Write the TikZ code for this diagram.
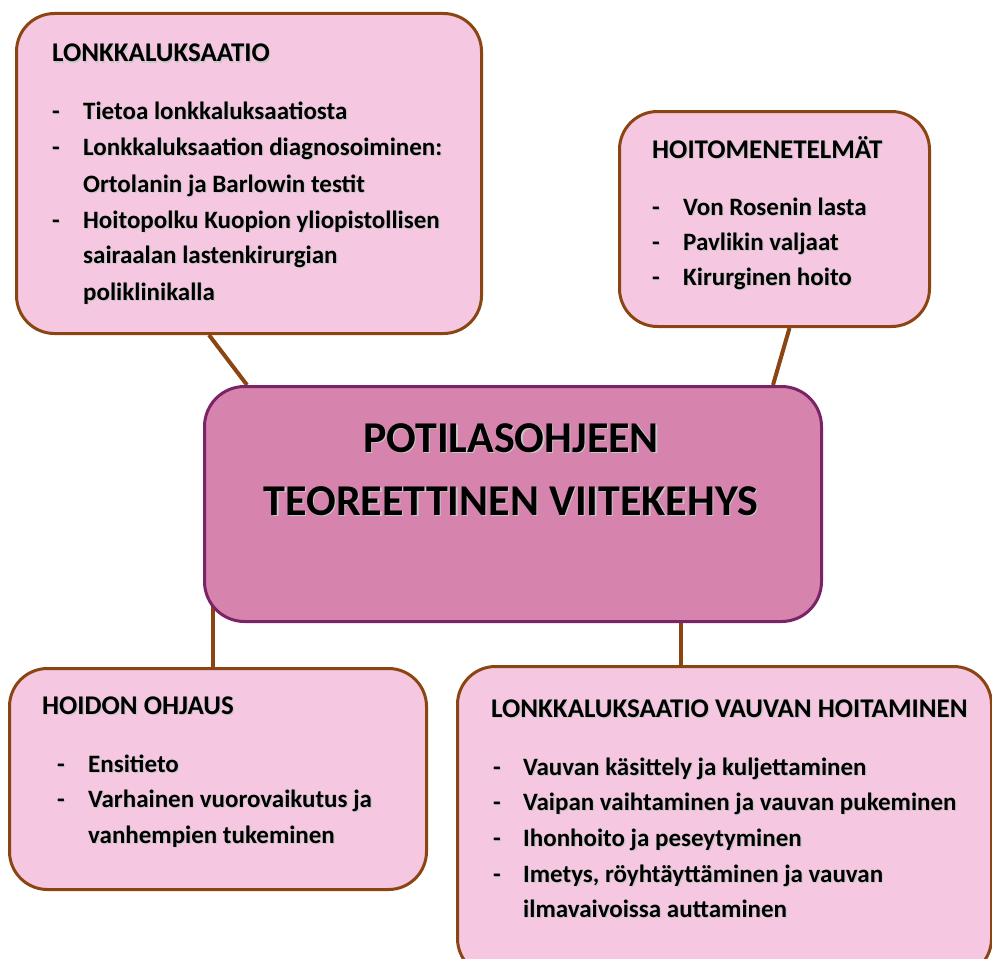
\documentclass[tikz,border=0pt]{standalone}
\usepackage{fontspec}
\setmainfont{Carlito}
\pgfdeclarelayer{background}
\pgfdeclarelayer{paper}
\pgfsetlayers{paper,background,main}
\definecolor{pinkfill}{HTML}{F5C7E0}
\definecolor{brownline}{HTML}{8B4513}
\definecolor{centfill}{HTML}{D683AD}
\definecolor{centline}{HTML}{7A2367}
\newcommand\shd[1]{\makebox[0pt][l]{\hspace{1.2pt}\raisebox{-1.2pt}{\textcolor{black!22}{#1}}}#1}
\tikzset{
  subbox/.style={draw=brownline, fill=pinkfill, line width=3pt, rounded corners=38pt, anchor=north west, inner sep=0pt},
  centbox/.style={draw=centline, fill=centfill, line width=3pt, rounded corners=40pt, anchor=north west, inner sep=0pt},
  txt/.style={anchor=base west, inner sep=0pt, font=\bfseries\fontsize{25}{29}\selectfont},
  ttl/.style={anchor=base west, inner sep=0pt, font=\bfseries\fontsize{27}{31}\selectfont},
  bigtxt/.style={anchor=base, inner sep=0pt, font=\bfseries\fontsize{44}{50}\selectfont},
  conn/.style={draw=brownline, line width=4pt}
}
\newcommand\li[4]{\node[txt] (#1) at (#2,#3) {\shd{#4}};}
\newcommand\ti[4]{\node[ttl] (#1) at (#2,#3) {\shd{#4}};}
\begin{document}
\begin{tikzpicture}[x=1pt,y=-1pt]
\useasboundingbox (0,0) rectangle (992,958);
\clip (0,0) rectangle (992,958);
\begin{pgfonlayer}{paper}
\fill[white] (0,0) rectangle (992,958);
\end{pgfonlayer}

% boxes
\node[subbox, minimum width=465pt, minimum height=320pt] (lonk) at (15,12) {};
\node[subbox, minimum width=310pt, minimum height=215pt] (hoito) at (618,110) {};
\node[centbox, minimum width=617pt, minimum height=235pt] (cent) at (203,385) {};
\node[subbox, minimum width=417pt, minimum height=221pt] (ohj) at (8,667) {};
\node[subbox, minimum width=534pt, minimum height=310pt] (vauv) at (456,665) {};

% connectors
\begin{pgfonlayer}{background}
\draw[conn] ([xshift=-40pt]lonk.south) -- ([xshift=44pt]cent.north west);
\draw[conn] ([xshift=15pt]hoito.south) -- ([xshift=-50pt]cent.north east);
\draw[conn] ([xshift=-5pt]ohj.north) -- ([xshift=-5pt]ohj.north |- cent.center);
\draw[conn] ([xshift=-44pt]vauv.north) -- ([xshift=-44pt]vauv.north |- cent.center);
\end{pgfonlayer}

% central text
\node[bigtxt] (c1) at (511,452) {\shd{POTILASOHJEEN}};
\node[bigtxt] (c2) at (511,515) {\shd{TEOREETTINEN VIITEKEHYS}};

% box 1
\ti{t1}{52}{62}{LONKKALUKSAATIO}
\li{a1d}{52}{119}{-}\li{a1}{83}{119}{Tietoa lonkkaluksaatiosta}
\li{a2d}{52}{155}{-}\li{a2}{83}{155}{Lonkkaluksaation diagnosoiminen:}
\li{a2b}{83}{192}{Ortolanin ja Barlowin testit}
\li{a3d}{52}{228}{-}\li{a3}{83}{228}{Hoitopolku Kuopion yliopistollisen}
\li{a3b}{83}{263}{sairaalan lastenkirurgian}
\li{a3c}{83}{300}{poliklinikalla}

% box 2
\ti{t2}{652}{158}{HOITOMENETELMÄT}
\li{b1d}{652}{215}{-}\li{b1}{683}{215}{Von Rosenin lasta}
\li{b2d}{652}{250}{-}\li{b2}{683}{250}{Pavlikin valjaat}
\li{b3d}{652}{285}{-}\li{b3}{683}{285}{Kirurginen hoito}

% box 4
\ti{t4}{42}{714}{HOIDON OHJAUS}
\li{d1d}{57}{772}{-}\li{d1}{88}{772}{Ensitieto}
\li{d2d}{57}{807}{-}\li{d2}{88}{807}{Varhainen vuorovaikutus ja}
\li{d2b}{88}{843}{vanhempien tukeminen}

% box 5
\ti{t5}{491}{717}{LONKKALUKSAATIO VAUVAN HOITAMINEN}
\li{e1d}{493}{775}{-}\li{e1}{523}{775}{Vauvan käsittely ja kuljettaminen}
\li{e2d}{493}{810}{-}\li{e2}{523}{810}{Vaipan vaihtaminen ja vauvan pukeminen}
\li{e3d}{493}{846}{-}\li{e3}{523}{846}{Ihonhoito ja peseytyminen}
\li{e4d}{493}{882}{-}\li{e4}{523}{882}{Imetys, röyhtäyttäminen ja vauvan}
\li{e4b}{523}{917}{ilmavaivoissa auttaminen}
\end{tikzpicture}
\end{document}
